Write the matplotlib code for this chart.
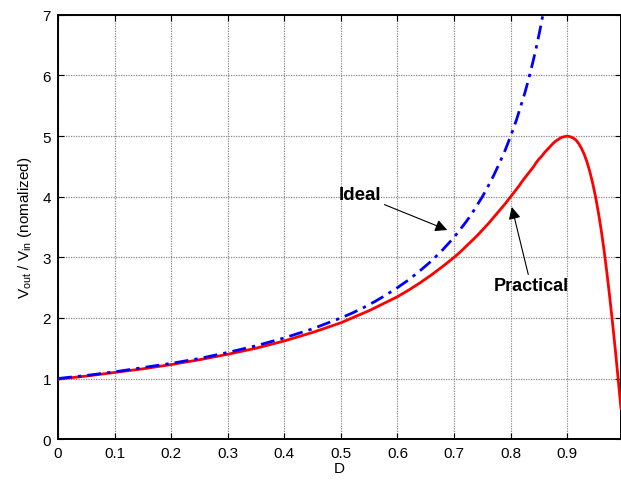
import matplotlib
matplotlib.use("Agg")
import matplotlib.pyplot as plt

plt.rcParams['font.family'] = ['Liberation Sans', 'DejaVu Sans']
plt.rcParams['mathtext.fontset'] = 'custom'
plt.rcParams['mathtext.rm'] = 'Liberation Sans'
plt.rcParams['mathtext.it'] = 'Liberation Sans:italic'
plt.rcParams['mathtext.bf'] = 'Liberation Sans:bold'

# Duty cycle vs. voltage gain, ideal converter
duty_ideal = [0.0, 0.05, 0.1, 0.15, 0.2, 0.25, 0.3, 0.35, 0.4, 0.45, 0.5,
              0.52, 0.54, 0.56, 0.58, 0.6, 0.62, 0.64, 0.66, 0.68, 0.7,
              0.71, 0.72, 0.73, 0.74, 0.75, 0.76, 0.77, 0.78, 0.79, 0.8,
              0.805, 0.81, 0.815, 0.82, 0.825, 0.83, 0.835, 0.84, 0.845,
              0.85, 0.852, 0.857]
gain_ideal = [1.00, 1.05, 1.11, 1.18, 1.25, 1.33, 1.43, 1.54, 1.67, 1.82, 2.00,
              2.08, 2.17, 2.27, 2.38, 2.50, 2.63, 2.78, 2.94, 3.125, 3.33,
              3.45, 3.57, 3.70, 3.85, 4.00, 4.17, 4.35, 4.55, 4.76, 5.00,
              5.13, 5.26, 5.41, 5.56, 5.71, 5.88, 6.06, 6.25, 6.45,
              6.67, 6.76, 7.00]

# Duty cycle vs. voltage gain, practical converter with losses
duty_prac = [0.0, 0.05, 0.1, 0.15, 0.2, 0.25, 0.3, 0.35, 0.4, 0.45, 0.5,
             0.55, 0.6, 0.62, 0.64, 0.66, 0.68, 0.7, 0.71, 0.72, 0.73, 0.74,
             0.75, 0.76, 0.77, 0.78, 0.79, 0.8, 0.81, 0.815, 0.82, 0.825,
             0.83, 0.835, 0.84, 0.845, 0.85, 0.855, 0.86, 0.865, 0.87, 0.875,
             0.88, 0.885, 0.89, 0.895, 0.9, 0.905, 0.91, 0.915, 0.92, 0.925,
             0.93, 0.935, 0.94, 0.945, 0.95, 0.955, 0.96, 0.965, 0.97,
             0.975, 0.98, 0.985, 0.99, 0.995]
gain_prac = [0.99, 1.04, 1.10, 1.16, 1.23, 1.31, 1.40, 1.50, 1.62, 1.76, 1.92,
             2.12, 2.35, 2.46, 2.58, 2.71, 2.85, 3.00, 3.08, 3.17, 3.26, 3.35,
             3.45, 3.55, 3.66, 3.77, 3.88, 4.00, 4.12, 4.18, 4.25, 4.31,
             4.37, 4.43, 4.49, 4.56, 4.62, 4.67, 4.73, 4.78, 4.83, 4.88,
             4.92, 4.95, 4.98, 4.99, 5.00, 4.99, 4.97, 4.94, 4.88, 4.80,
             4.70, 4.57, 4.41, 4.22, 4.00, 3.74, 3.45, 3.12, 2.75,
             2.35, 1.92, 1.47, 0.99, 0.50]

x_ticks = [0, 0.1, 0.2, 0.3, 0.4, 0.5, 0.6, 0.7, 0.8, 0.9]
x_ticklabels = ['0', '0.1', '0.2', '0.3', '0.4', '0.5', '0.6', '0.7', '0.8', '0.9']
y_ticks = [0, 1, 2, 3, 4, 5, 6, 7]

fig = plt.figure(figsize=(6.21, 4.81), dpi=100)
ax = fig.add_axes([0.0934, 0.085, 0.9066, 0.882])

ax.plot(duty_prac, gain_prac, color='#ff0000', lw=2.0, solid_joinstyle='round',
        solid_capstyle='round', zorder=3)
ax.plot(duty_ideal, gain_ideal, color='#0000ff', lw=2.0,
        linestyle=(0, (5, 2.2, 1.2, 2.2)), zorder=4)

ax.set_xlim(0, 0.995)
ax.set_ylim(0, 7)
ax.set_xticks(x_ticks)
ax.set_xticklabels(x_ticklabels)
ax.set_yticks(y_ticks)
ax.tick_params(direction='in', length=4, width=0.8, labelsize=11, pad=5,
               top=True, right=True)
ax.grid(True, color='#8a8a8a', linestyle=(0, (1, 1)), linewidth=0.9)
for s in ax.spines.values():
    s.set_linewidth(1.4)

ax.set_xlabel('D', fontsize=11, labelpad=1)
ax.set_ylabel(r'V$_{\rm out}$ / V$_{\rm in}$ (nomalized)', fontsize=11, labelpad=6)

arrow = dict(arrowstyle='-|>', color='k', lw=0.8, mutation_scale=18,
             shrinkA=0, shrinkB=0)
ax.annotate('Ideal', xy=(0.688, 3.45), xytext=(0.572, 4.03),
            fontsize=13.5, fontweight='bold', ha='right', va='center',
            arrowprops=arrow)
ax.annotate('Practical', xy=(0.802, 3.83), xytext=(0.836, 2.67),
            fontsize=13, fontweight='bold', ha='center', va='top',
            arrowprops=arrow)

fig.savefig('out.png', dpi=100)
